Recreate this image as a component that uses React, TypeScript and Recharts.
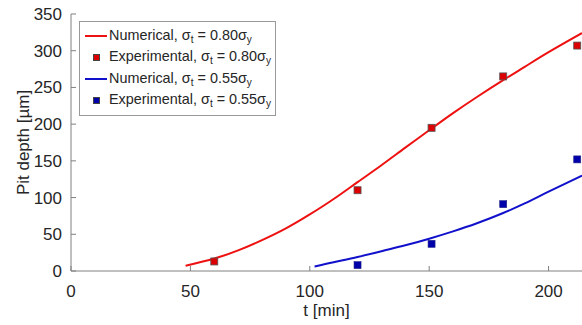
import { ComposedChart, Legend, Line, Scatter, XAxis, YAxis } from "recharts";

const redNumT = [48, 60, 70, 80, 90, 100, 110, 120, 130, 140, 151, 160, 170, 181, 190, 200, 214];
const redNumDepth = [7, 17, 28, 42, 58, 77, 98, 121, 144, 168, 194, 215, 237, 260, 278, 298, 324];
const blueNumT = [102, 110, 120, 130, 140, 150, 160, 170, 181, 190, 200, 214];
const blueNumDepth = [6, 12, 19, 27, 35, 44, 54, 65, 79, 92, 108, 130];
const redExpT = [60, 120, 151, 181, 212];
const redExpDepth = [13, 110, 195, 265, 307];
const blueExpT = [120, 151, 181, 212];
const blueExpDepth = [8, 37, 91, 152];
const xTicks = [0, 50, 100, 150, 200];
const yTicks = [0, 50, 100, 150, 200, 250, 300, 350];

const pairs = (ts: number[], ds: number[]) => ts.map((t, i) => ({ t, depth: ds[i] }));

const red = "#ee1111";
const blue = "#1111cc";
const font = "'Liberation Sans', Arial, sans-serif";

function Sigma({ sub }: { sub: string }) {
  return (
    <span>
      σ<sub style={{ fontSize: "0.7em", verticalAlign: "-0.25em" }}>{sub}</sub>
    </span>
  );
}

const legendRows = [
  { kind: "line", color: red, name: "Numerical", level: "0.80" },
  { kind: "square", color: "#dd0000", name: "Experimental", level: "0.80" },
  { kind: "line", color: blue, name: "Numerical", level: "0.55" },
  { kind: "square", color: "#0000aa", name: "Experimental", level: "0.55" },
];

function LegendBox() {
  return (
    <div
      style={{
        border: "1px solid #999",
        background: "#fff",
        fontFamily: font,
        fontSize: 14.4,
        color: "#262626",
        padding: "3px 0 4px 3px",
        boxSizing: "border-box",
        width: 197,
      }}
    >
      {legendRows.map((r, i) => (
        <div key={i} style={{ display: "flex", alignItems: "center", height: 21.5 }}>
          <div style={{ width: 26, display: "flex", justifyContent: "center" }}>
            {r.kind === "line" ? (
              <div style={{ width: 22, height: 2, background: r.color }} />
            ) : (
              <div style={{ width: 5, height: 5, background: r.color, border: "0.5px solid #444" }} />
            )}
          </div>
          <span style={{ whiteSpace: "nowrap" }}>
            {r.name}, <Sigma sub="t" /> = {r.level}
            <Sigma sub="y" />
          </span>
        </div>
      ))}
    </div>
  );
}

const RedSquare = (props: any) => (
  <rect x={props.cx - 3.5} y={props.cy - 3.5} width={7} height={7} fill="#dd0000" stroke="#555" strokeWidth={0.8} />
);
const BlueSquare = (props: any) => (
  <rect x={props.cx - 3.5} y={props.cy - 3.5} width={7} height={7} fill="#0000aa" stroke="#222288" strokeWidth={0.6} />
);

export default function App() {
  return (
    <div style={{ position: "absolute", left: 0, top: 0, background: "#fff" }}>
      <ComposedChart width={582} height={325} margin={{ top: 14, right: 0, bottom: 0, left: 0 }}>
        <XAxis
          type="number"
          dataKey="t"
          domain={[0, 214]}
          ticks={xTicks}
          allowDataOverflow
          height={54}
          stroke="#808080"
          tickSize={-5}
          tickMargin={19}
          tick={{ fill: "#262626", fontSize: 17, fontFamily: font }}
          label={{ value: "t [min]", position: "center", dy: 12, fill: "#262626", fontSize: 17, fontFamily: font }}
        />
        <YAxis
          type="number"
          dataKey="depth"
          domain={[0, 350]}
          ticks={yTicks}
          width={71}
          stroke="#808080"
          tickSize={-5}
          tickMargin={14}
          tick={{ fill: "#262626", fontSize: 17, fontFamily: font }}
          label={{ value: "Pit depth [µm]", angle: -90, position: "center", dx: -13, fill: "#262626", fontSize: 17, fontFamily: font }}
        />
        <Legend
          layout="vertical"
          align="center"
          verticalAlign="middle"
          content={() => <LegendBox />}
          wrapperStyle={{ position: "absolute", left: 79, top: 21, width: 197 }}
        />
        <Line
          data={pairs(redNumT, redNumDepth)}
          dataKey="depth"
          type="natural"
          stroke={red}
          strokeWidth={2}
          dot={false}
          isAnimationActive={false}
        />
        <Line
          data={pairs(blueNumT, blueNumDepth)}
          dataKey="depth"
          type="natural"
          stroke={blue}
          strokeWidth={2}
          dot={false}
          isAnimationActive={false}
        />
        <Scatter data={pairs(redExpT, redExpDepth)} dataKey="depth" shape={RedSquare} isAnimationActive={false} />
        <Scatter data={pairs(blueExpT, blueExpDepth)} dataKey="depth" shape={BlueSquare} isAnimationActive={false} />
      </ComposedChart>
    </div>
  );
}
